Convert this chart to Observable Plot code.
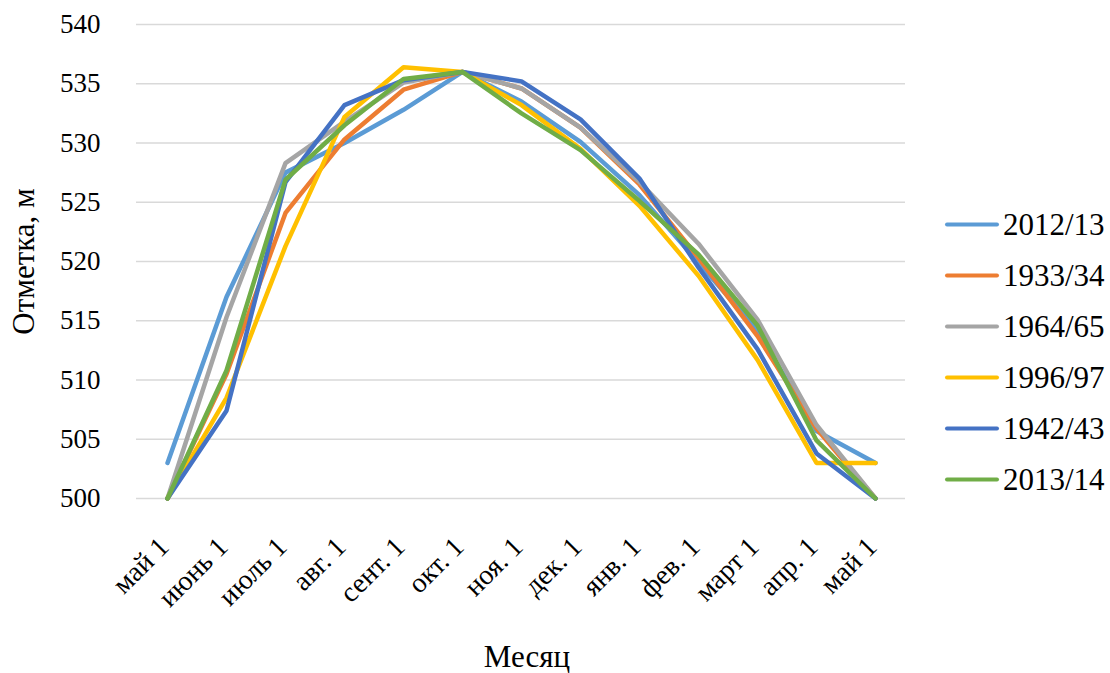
<!DOCTYPE html>
<html>
<head>
<meta charset="utf-8">
<script src="https://cdn.jsdelivr.net/npm/d3@7"></script>
<script src="https://cdn.jsdelivr.net/npm/@observablehq/plot@0.6"></script>
<style>
  html, body { margin: 0; padding: 0; background: #fff; }
  #wrap { position: relative; width: 1110px; height: 673px; font-family: "Liberation Serif", "Times New Roman", serif; }
  #legend { position: absolute; left: 945px; top: 0; }
  .item { position: absolute; left: 0; display: flex; align-items: center; white-space: nowrap; transform: translateY(-50%); }
  .sw { width: 54px; height: 4px; border-radius: 2px; margin-right: 4px; }
  .lab { font-size: 31px; color: #000; line-height: 1; }
</style>
</head>
<body>
<div id="wrap"><div id="legend"></div></div>
<script>
// Month labels (13 points: May 1 to May 1)
const months = ["май 1", "июнь 1", "июль 1", "авг. 1", "сент. 1", "окт. 1", "ноя. 1", "дек. 1", "янв. 1", "фев. 1", "март 1", "апр. 1", "май 1"];
const yTicks = [500, 505, 510, 515, 520, 525, 530, 535, 540];

// Series (water level, m)
const seriesNames = ["2012/13", "1933/34", "1964/65", "1996/97", "1942/43", "2013/14"];
const seriesColors = ["#5B9BD5", "#ED7D31", "#A5A5A5", "#FFC000", "#4472C4", "#70AD47"];
const s2012_13 = [503.0, 517.0, 527.5, 530.0, 532.8, 536.0, 533.5, 530.1, 525.6, 519.9, 514.2, 505.7, 503.0];
const s1933_34 = [500.0, 510.5, 524.1, 530.3, 534.5, 536.0, 534.6, 531.3, 526.5, 520.3, 513.7, 505.9, 500.0];
const s1964_65 = [500.0, 515.3, 528.3, 531.8, 535.1, 536.0, 534.6, 531.3, 526.7, 521.5, 515.1, 506.2, 500.0];
const s1996_97 = [500.0, 508.5, 521.3, 532.2, 536.4, 536.0, 533.2, 529.5, 524.7, 518.8, 511.7, 503.0, 503.0];
const s1942_43 = [500.0, 507.4, 526.7, 533.2, 535.3, 536.0, 535.2, 532.0, 527.0, 519.5, 512.6, 503.8, 500.0];
const s2013_14 = [500.0, 510.8, 526.9, 531.5, 535.4, 536.0, 532.5, 529.4, 525.1, 520.6, 514.6, 504.9, 500.0];
const seriesValues = [s2012_13, s1933_34, s1964_65, s1996_97, s1942_43, s2013_14];

const data = [];
seriesNames.forEach((name, k) => {
  seriesValues[k].forEach((v, i) => data.push({series: name, idx: i, value: v}));
});
const idx = d3.range(months.length);

const font = "'Liberation Serif', 'Times New Roman', serif";

const chart = Plot.plot({
  width: 1110,
  height: 673,
  marginLeft: 136,
  marginRight: 205,
  marginTop: 24,
  marginBottom: 175,
  style: {fontFamily: font, fontSize: "27px", color: "#000", background: "#fff"},
  x: {type: "point", domain: idx, padding: 0.5, axis: null},
  y: {domain: [500, 540], axis: null},
  color: {domain: seriesNames, range: seriesColors},
  marks: [
    Plot.gridY(yTicks, {stroke: "#d9d9d9", strokeOpacity: 1, strokeWidth: 1.5}),
    Plot.axisY(yTicks, {tickSize: 0, tickPadding: 36, fontSize: 27, label: null}),
    Plot.text(idx, {x: d => d, text: d => months[d], frameAnchor: "bottom", rotate: -45, textAnchor: "end", lineAnchor: "bottom", dx: 3, dy: 50, fontSize: 28}),
    Plot.text(["Отметка, м"], {frameAnchor: "left", rotate: -90, textAnchor: "middle", dx: -112, fontSize: 31}),
    Plot.text(["Месяц"], {frameAnchor: "bottom", textAnchor: "middle", dx: 6, dy: 168, fontSize: 31}),
    Plot.line(data, {x: "idx", y: "value", z: "series", stroke: "series", strokeWidth: 4.5, strokeLinejoin: "round", strokeLinecap: "round"})
  ]
});
document.getElementById("wrap").appendChild(chart);

const legendTops = [224, 275, 326, 377, 428, 479];
const legend = document.getElementById("legend");
seriesNames.forEach((name, k) => {
  const item = document.createElement("div");
  item.className = "item";
  item.style.top = legendTops[k] + "px";
  const sw = document.createElement("div");
  sw.className = "sw";
  sw.style.background = seriesColors[k];
  const lab = document.createElement("span");
  lab.className = "lab";
  lab.textContent = name;
  item.appendChild(sw);
  item.appendChild(lab);
  legend.appendChild(item);
});
</script>
</body>
</html>
